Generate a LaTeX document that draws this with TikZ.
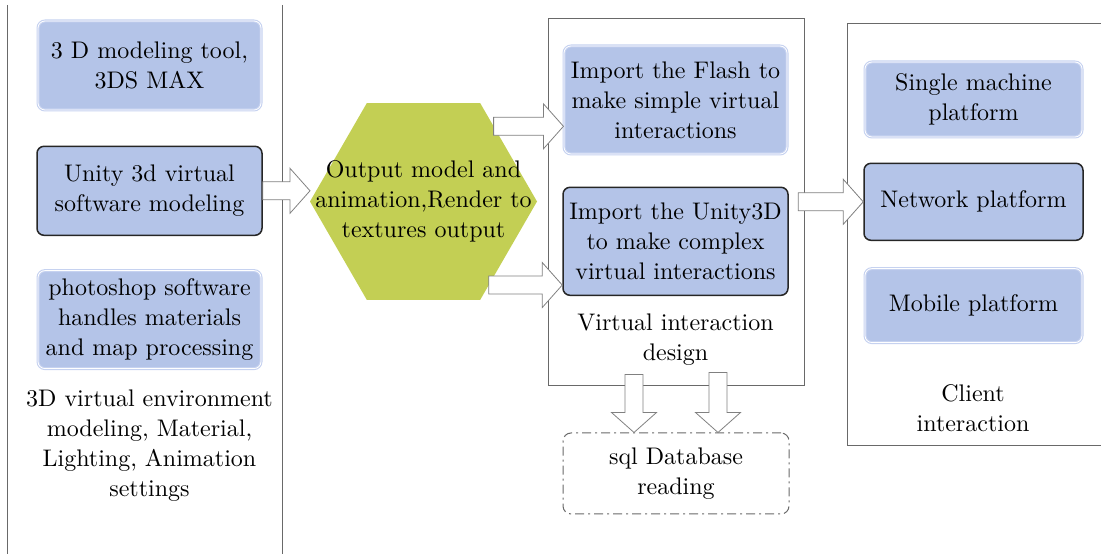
\documentclass[tikz,border=0pt]{standalone}
\usepackage{fontspec}
\setmainfont{lmroman10-regular.otf}
\usetikzlibrary{positioning, shapes.geometric, calc}
\definecolor{BoxBlue}{RGB}{180,196,232}
\definecolor{BoxEdge}{RGB}{198,210,240}
\definecolor{HexGreen}{RGB}{195,207,84}
\definecolor{FrameGray}{RGB}{105,105,105}
\definecolor{ArrowGray}{RGB}{128,128,128}

% hollow block arrow from #1 to the tip #2
\newcommand{\fatarrow}[2]{%
  \coordinate (fa-s) at (#1);
  \coordinate (fa-t) at (#2);
  \coordinate (fa-b) at ($(fa-t)!20pt!(fa-s)$);
  \draw[fatarrow] ($(fa-s)!9pt!90:(fa-t)$) -- ($(fa-b)!9pt!-90:(fa-s)$)
    -- ($(fa-b)!22.5pt!-90:(fa-s)$) -- (fa-t)
    -- ($(fa-b)!22.5pt!90:(fa-s)$) -- ($(fa-b)!9pt!90:(fa-s)$)
    -- ($(fa-s)!9pt!-90:(fa-t)$) -- cycle;}

\begin{document}
\begin{tikzpicture}[x=1pt, y=1pt,
    every node/.style={font=\fontsize{24}{30}\selectfont},
    softbox/.style={rectangle, rounded corners=7pt, fill=BoxBlue, draw=BoxEdge,
      double=white, double distance=0.8pt, line width=1.1pt, align=center,
      inner sep=0pt, minimum width=223pt},
    hardbox/.style={rectangle, rounded corners=7pt, fill=BoxBlue, draw=black!85,
      line width=1.5pt, align=center, inner sep=0pt, minimum width=225pt},
    frame/.style={draw=FrameGray, line width=0.9pt},
    fatarrow/.style={fill=white, draw=ArrowGray, line width=0.8pt, line join=miter},
    caption/.style={align=center, inner sep=0pt}]
  \useasboundingbox (0,0) rectangle (1101,554);

  % frames
  \draw[frame] (7,549) -- (7,0);
  \draw[frame] (282,549) -- (282,0);
  \draw[frame] (548,169) rectangle (804,536);
  \draw[frame] (1103,531) -- (847,531) -- (847,109) -- (1103,109);

  % modeling tools
  \node[softbox, minimum height=89pt] (max) at (149.5,488.5) {3 D modeling tool,\\3DS MAX};
  \node[hardbox, minimum height=89pt, below=35pt of max] (unity) {Unity 3d virtual\\software modeling};
  \node[softbox, minimum height=98pt, below=34pt of unity] (ps) {photoshop software\\handles materials\\and map processing};
  \node[caption, below=20pt of ps] (env) {3D virtual environment\\modeling, Material,\\Lighting, Animation\\settings};

  % output
  \node[regular polygon, regular polygon sides=6, minimum size=227pt, inner sep=0pt,
    outer sep=0pt, fill=HexGreen] (hex) at (423.5,352.5) {};
  \node[caption] (hextext) at (423.5,353) {Output model and\\animation,Render to\\textures output};

  % virtual interaction
  \node[softbox, minimum height=108pt] (flash) at (675.5,454) {Import the Flash to\\make simple virtual\\interactions};
  \node[hardbox, minimum height=108pt, below=32pt of flash] (imp3d) {Import the Unity3D\\to make complex\\virtual interactions};
  \node[caption] (vlabel) at (675.5,214) {Virtual interaction\\design};
  \node[rectangle, rounded corners=8pt, draw=FrameGray, line width=1pt,
    dash pattern=on 9pt off 4pt on 2pt off 4pt,
    minimum width=226pt, minimum height=81pt, align=center] (db) at (676,80.5) {sql Database\\reading};

  % client
  \node[softbox, minimum width=217pt, minimum height=75pt] (single) at (973.5,454.5) {Single machine\\platform};
  \node[hardbox, minimum width=219pt, minimum height=77pt, below=25pt of single] (net) {Network platform};
  \node[softbox, minimum width=217pt, minimum height=74pt, below=27pt of net] (mobile) {Mobile platform};
  \node[caption] (clabel) at (973,146) {Client\\interaction};

  % block arrows
  \coordinate (h1) at (hex.47);
  \coordinate (h2) at (hex.-52);
  \fatarrow{unity.east}{hex.west |- unity.east}
  \fatarrow{h1}{flash.west |- h1}
  \fatarrow{h2}{imp3d.west |- h2}
  \fatarrow{$(net.west)+(-65,0)$}{net.west}
  \fatarrow{$(db.north)+(-42,58)$}{$(db.north)+(-42,0)$}
  \fatarrow{$(db.north)+(42,60)$}{$(db.north)+(42,0)$}
\end{tikzpicture}
\end{document}
